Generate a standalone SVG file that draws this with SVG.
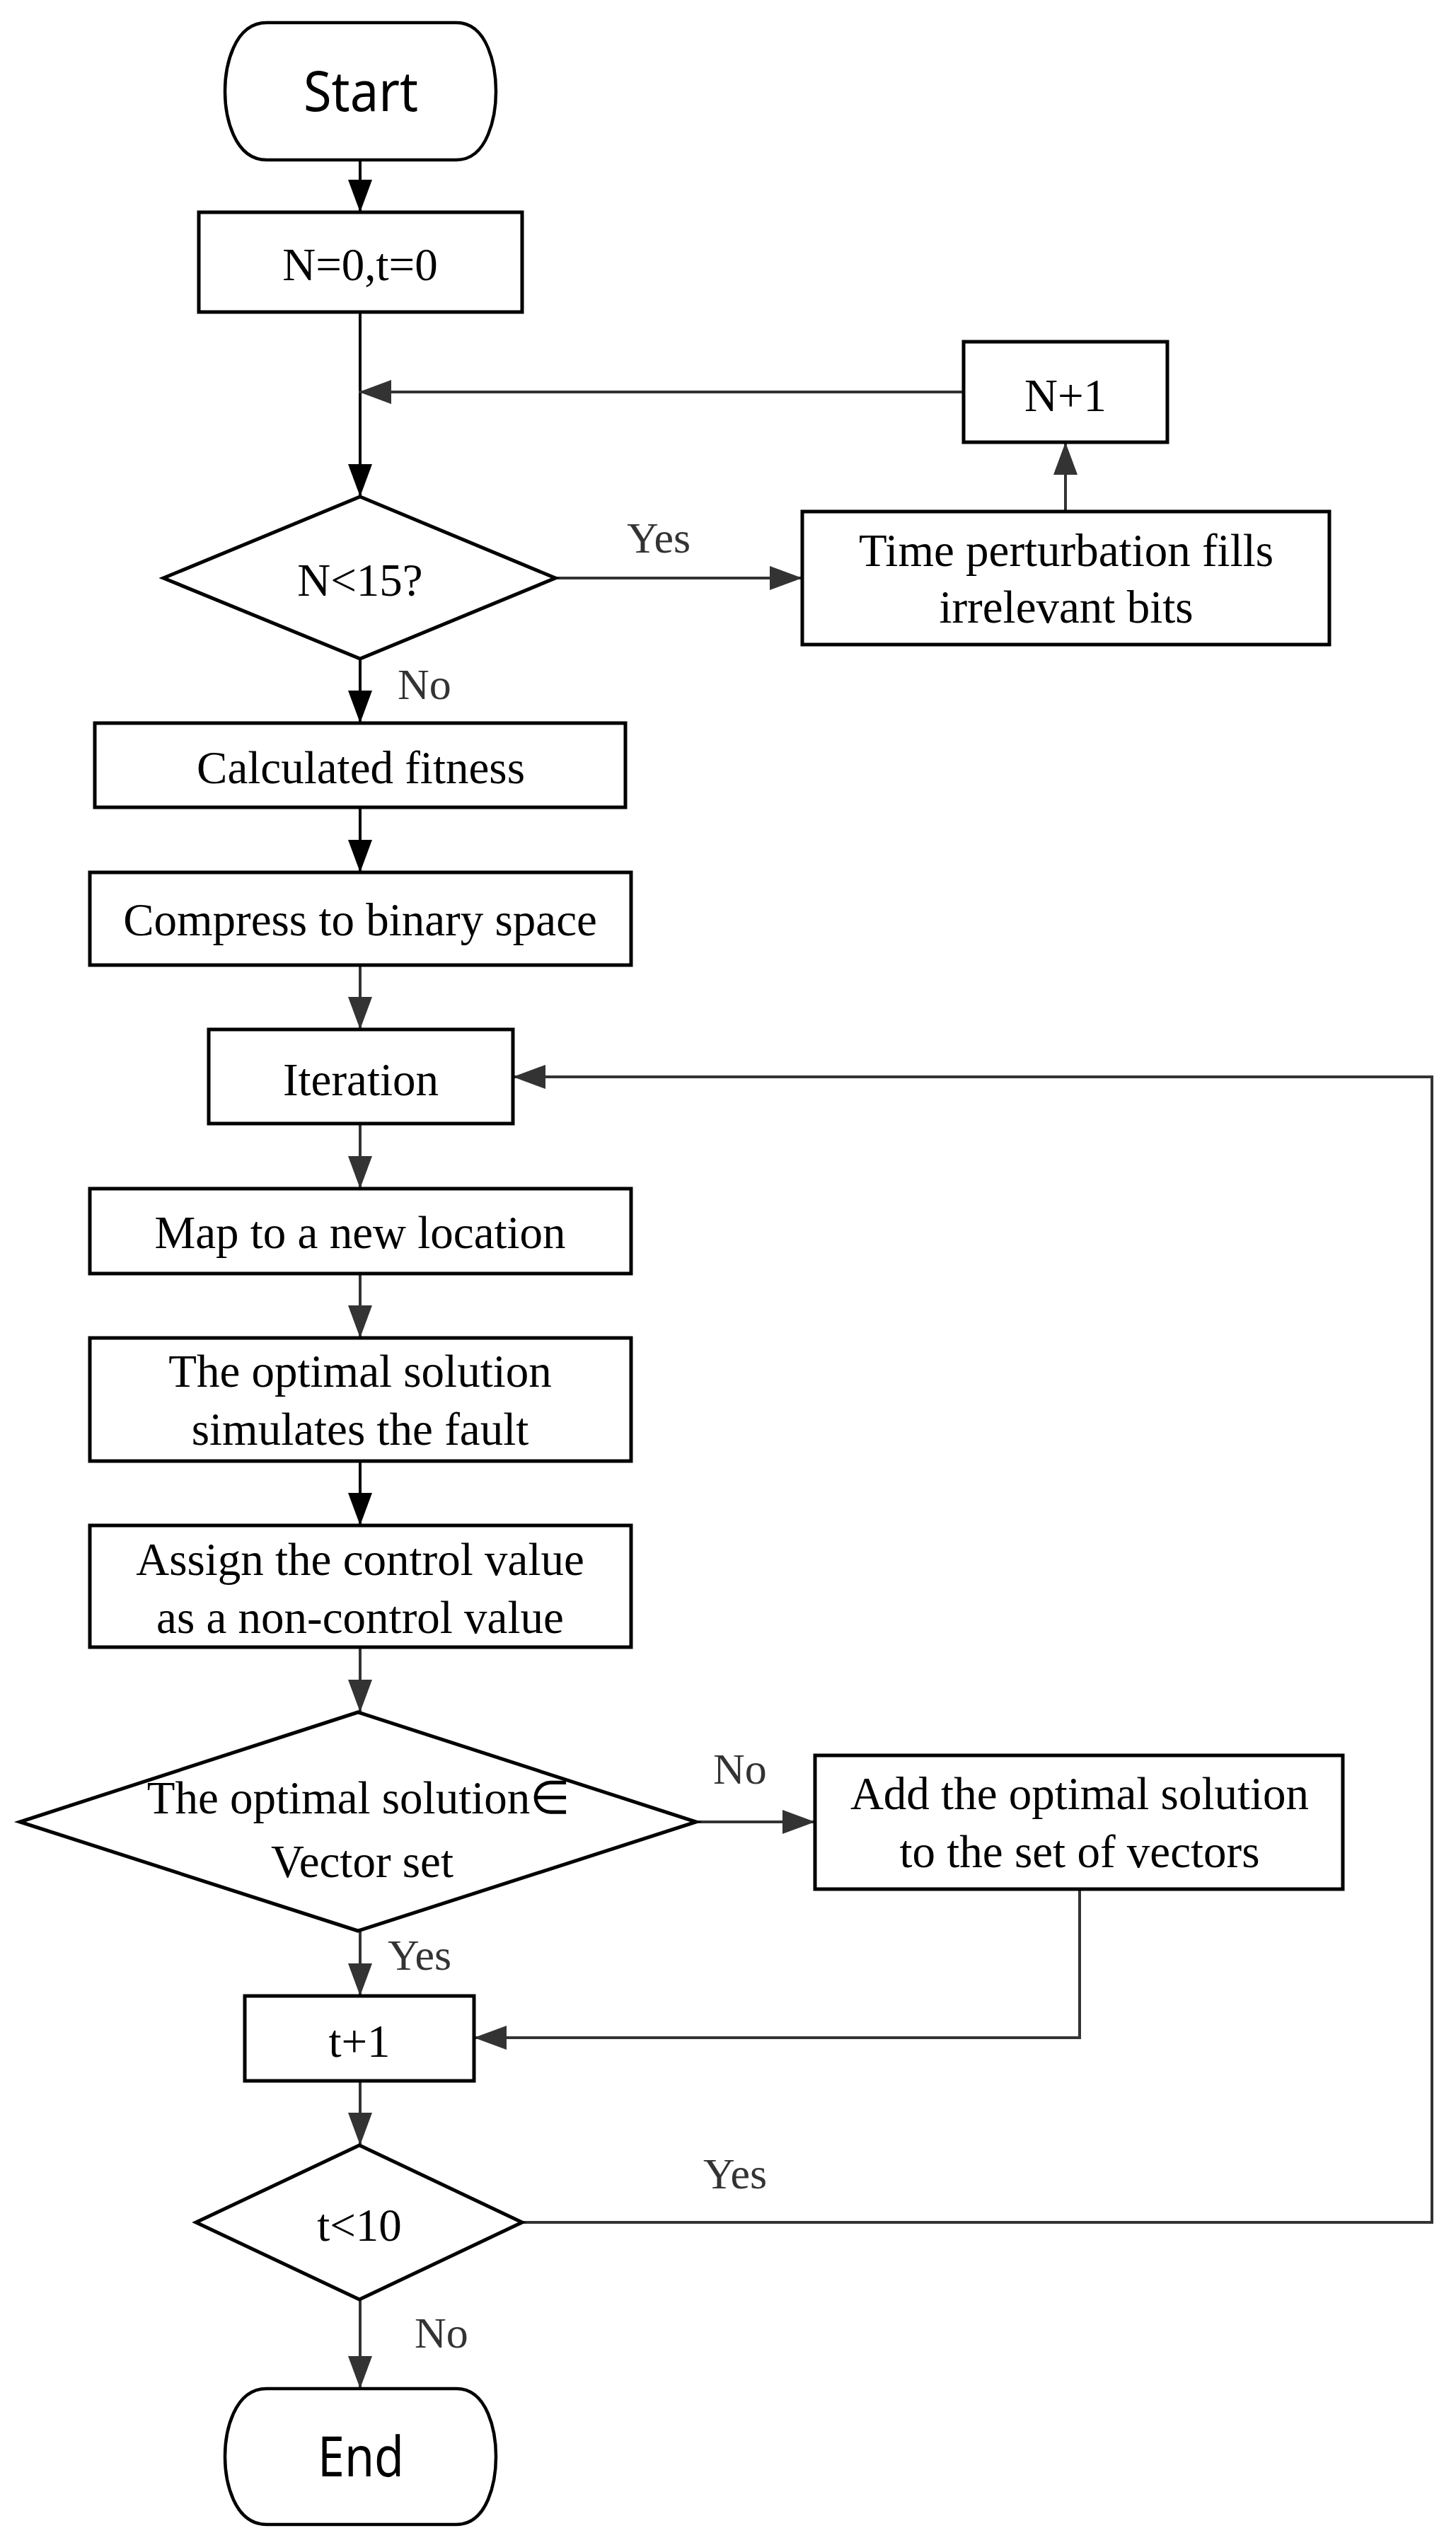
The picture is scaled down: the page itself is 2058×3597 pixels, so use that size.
<svg xmlns="http://www.w3.org/2000/svg" width="2058" height="3597" viewBox="0 0 2058 3597">
<defs>
<style>
.box{fill:#fff;stroke:#000;stroke-width:5}
.term{fill:#fff;stroke:#000;stroke-width:4.5}
.t{font-family:"Liberation Serif","Times New Roman",serif;font-size:65px;fill:#000;text-anchor:middle}
.s{font-family:"Noto Sans","Open Sans",sans-serif;font-size:78px;fill:#000;text-anchor:middle}
.lbl{font-family:"Liberation Serif","Times New Roman",serif;font-size:62px;fill:#333}
.c{fill:none;stroke:#333;stroke-width:4}
.cb{fill:none;stroke:#000;stroke-width:4}
</style>
<marker id="ah" markerUnits="userSpaceOnUse" markerWidth="46" markerHeight="34" refX="46" refY="17" orient="auto">
<path d="M0,0 L46,17 L0,34 Z" fill="#333"/>
</marker>
<marker id="ahb" markerUnits="userSpaceOnUse" markerWidth="46" markerHeight="34" refX="46" refY="17" orient="auto">
<path d="M0,0 L46,17 L0,34 Z" fill="#000"/>
</marker>
</defs>
<rect width="2058" height="3597" fill="#fff"/>

<g id="connectors">
<path class="cb" d="M509,226 V300" marker-end="url(#ahb)"/>
<path class="cb" d="M509,441 V702" marker-end="url(#ahb)"/>
<path class="c" d="M785,817 H1134" marker-end="url(#ah)"/>
<path class="c" d="M1506,723 V625" marker-end="url(#ah)"/>
<path class="c" d="M1362,554 H507" marker-end="url(#ah)"/>
<path class="cb" d="M509,931 V1022" marker-end="url(#ahb)"/>
<path class="cb" d="M509,1141 V1233" marker-end="url(#ahb)"/>
<path class="c" d="M509,1364 V1455" marker-end="url(#ah)"/>
<path class="c" d="M509,1588 V1680" marker-end="url(#ah)"/>
<path class="c" d="M509,1800 V1891" marker-end="url(#ah)"/>
<path class="cb" d="M509,2065 V2156" marker-end="url(#ahb)"/>
<path class="c" d="M509,2328 V2420" marker-end="url(#ah)"/>
<path class="c" d="M984,2575 H1152" marker-end="url(#ah)"/>
<path class="c" d="M509,2729 V2821" marker-end="url(#ah)"/>
<path class="c" d="M1526,2670 V2880 H670" marker-end="url(#ah)"/>
<path class="c" d="M509,2941 V3032" marker-end="url(#ah)"/>
<path class="c" d="M738,3141 H2024 V1522 H725" marker-end="url(#ah)"/>
<path class="c" d="M509,3250 V3376" marker-end="url(#ah)"/>
<text class="lbl" x="886" y="781">Yes</text>
<text class="lbl" x="562" y="988">No</text>
<text class="lbl" x="1008" y="2521">No</text>
<text class="lbl" x="548" y="2784">Yes</text>
<text class="lbl" x="994" y="3093">Yes</text>
<text class="lbl" x="586" y="3318">No</text>
</g>

<g id="start">
<path class="term" d="M377,32 H645 C690,32 701,95 701,129 C701,163 690,226 645,226 H377 C330,226 318,163 318,129 C318,95 330,32 377,32 Z"/>
<text class="s" x="510" y="157" textLength="162" lengthAdjust="spacingAndGlyphs">Start</text>
</g>

<g id="init">
<rect class="box" x="281" y="300" width="457" height="141"/>
<text class="t" x="509" y="396">N=0,t=0</text>
</g>

<g id="n_lt_15">
<polygon class="box" points="509,702 785,817 509,931 231,817"/>
<text class="t" x="509" y="842">N&lt;15?</text>
</g>

<g id="time_perturbation">
<rect class="box" x="1134" y="723" width="745" height="188"/>
<text class="t" x="1507" y="800">Time perturbation fills</text>
<text class="t" x="1507" y="880">irrelevant bits</text>
</g>

<g id="n_plus_1">
<rect class="box" x="1362" y="483" width="288" height="142"/>
<text class="t" x="1506" y="581">N+1</text>
</g>

<g id="fitness">
<rect class="box" x="134" y="1022" width="750" height="119"/>
<text class="t" x="510" y="1107">Calculated fitness</text>
</g>

<g id="compress">
<rect class="box" x="127" y="1233" width="765" height="131"/>
<text class="t" x="509" y="1322">Compress to binary space</text>
</g>

<g id="iteration">
<rect class="box" x="295" y="1455" width="430" height="133"/>
<text class="t" x="510" y="1548">Iteration</text>
</g>

<g id="map">
<rect class="box" x="127" y="1680" width="765" height="120"/>
<text class="t" x="509" y="1764">Map to a new location</text>
</g>

<g id="simulate">
<rect class="box" x="127" y="1891" width="765" height="174"/>
<text class="t" x="509" y="1960">The optimal solution</text>
<text class="t" x="509" y="2042">simulates the fault</text>
</g>

<g id="assign">
<rect class="box" x="127" y="2156" width="765" height="172"/>
<text class="t" x="509" y="2226">Assign the control value</text>
<text class="t" x="509" y="2308">as a non-control value</text>
</g>

<g id="in_vector_set">
<polygon class="box" points="506,2420 984,2575 506,2729 28,2575"/>
<text class="t" x="507" y="2563">The optimal solution∈</text>
<text class="t" x="512" y="2653">Vector set</text>
</g>

<g id="add_solution">
<rect class="box" x="1152" y="2481" width="746" height="189"/>
<text class="t" x="1526" y="2557">Add the optimal solution</text>
<text class="t" x="1526" y="2639">to the set of vectors</text>
</g>

<g id="t_plus_1">
<rect class="box" x="346" y="2821" width="324" height="120"/>
<text class="t" x="508" y="2907">t+1</text>
</g>

<g id="t_lt_10">
<polygon class="box" points="508,3032 738,3141 508,3250 277,3141"/>
<text class="t" x="508" y="3167">t&lt;10</text>
</g>

<g id="end">
<path class="term" d="M377,3376 H645 C690,3376 701,3438 701,3472 C701,3506 690,3568 645,3568 H377 C330,3568 318,3506 318,3472 C318,3438 330,3376 377,3376 Z"/>
<text class="s" x="510" y="3500" textLength="122" lengthAdjust="spacingAndGlyphs">End</text>
</g>
</svg>
